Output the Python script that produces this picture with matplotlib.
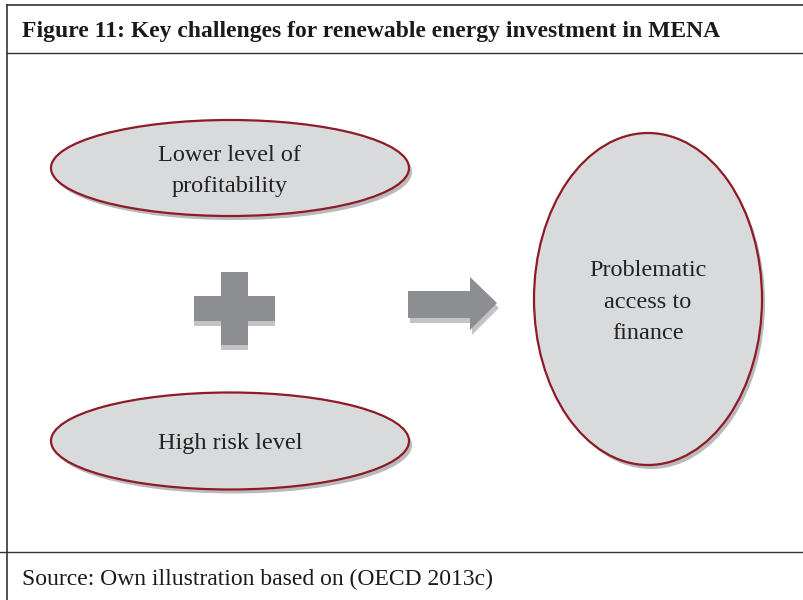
import matplotlib
matplotlib.use("Agg")
import matplotlib.pyplot as plt
from matplotlib.patches import Ellipse, Polygon

title = "Figure 11: Key challenges for renewable energy investment in MENA"
source = "Source: Own illustration based on (OECD 2013c)"
causes = ["Lower level of\nprofitability", "High risk level"]
result = "Problematic\naccess to\nfinance"

fill = "#d9dadc"
edge = "#8e1b27"
shadow = "#a9a9ab"
sym = "#8d8e92"
sym_shadow = "#c4c4c6"
serif = ["Liberation Serif", "DejaVu Serif"]

fig = plt.figure(figsize=(8.04, 6.0), dpi=100)
ax = fig.add_axes([0, 0, 1, 1])
ax.set_xlim(0, 804)
ax.set_ylim(600, 0)
ax.axis("off")

# frame
ax.plot([7, 7], [5, 600], color="#333333", lw=1.2)
ax.plot([7, 804], [5, 5], color="#333333", lw=1.2)
ax.plot([7, 804], [53, 53], color="#333333", lw=1.0)
ax.plot([0, 804], [552, 552], color="#333333", lw=1.0)

ax.text(22, 31, title, family=serif, fontsize=17, fontweight="bold",
        ha="left", va="center", color="#1a1a1a")
ax.text(22, 579, source, family=serif, fontsize=17,
        ha="left", va="center", color="#1a1a1a")


def oval(cx, cy, w, h, label):
    ax.add_patch(Ellipse((cx + 3, cy + 4), w, h, facecolor=shadow,
                         edgecolor="none", alpha=0.8))
    ax.add_patch(Ellipse((cx, cy), w, h, facecolor=fill,
                         edgecolor=edge, lw=1.6))
    ax.text(cx, cy + 3, label, family=serif, fontsize=17.5, ha="center",
            va="center", color="#222222", linespacing=1.67)


oval(230, 168, 358, 96, causes[0])
oval(230, 441, 358, 97, causes[1])
oval(648, 299, 228, 332, result)

# plus sign
def plus(dx, dy, color):
    x0, x1, x2, x3 = 194, 221, 248, 275
    y0, y1, y2, y3 = 272, 296, 321, 345
    pts = [(x1, y0), (x2, y0), (x2, y1), (x3, y1), (x3, y2), (x2, y2),
           (x2, y3), (x1, y3), (x1, y2), (x0, y2), (x0, y1), (x1, y1)]
    ax.add_patch(Polygon([(x + dx, y + dy) for x, y in pts],
                         closed=True, facecolor=color, edgecolor="none"))


plus(0, 5, sym_shadow)
plus(0, 0, sym)

# arrow
def arrow(dx, dy, color):
    pts = [(408, 291), (470, 291), (470, 277), (497, 303), (470, 330),
           (470, 318), (408, 318)]
    ax.add_patch(Polygon([(x + dx, y + dy) for x, y in pts],
                         closed=True, facecolor=color, edgecolor="none"))


arrow(2, 5, sym_shadow)
arrow(0, 0, sym)

fig.savefig("out.png", dpi=100, facecolor="white")
